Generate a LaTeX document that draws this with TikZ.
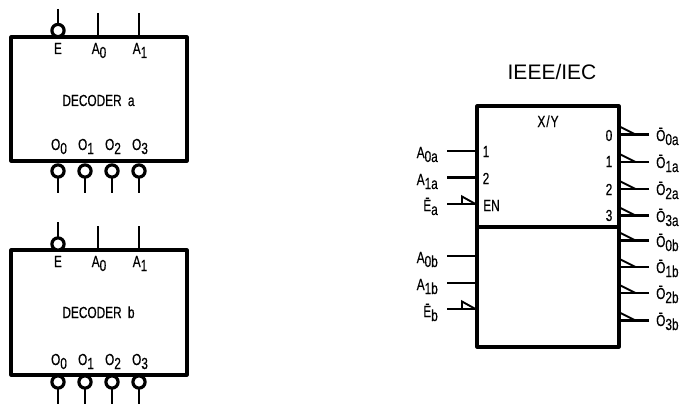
\documentclass[tikz,border=0pt]{standalone}
\usepackage{fontspec}
\usetikzlibrary{calc}
\setmainfont{Liberation Sans}
\newfontfamily\cad[FakeStretch=0.74,FakeBold=0.35]{Liberation Sans}
\newcommand{\sbs}[1]{\raisebox{-4pt}{#1}}
\tikzset{
  box/.style={draw,line width=3.1pt,fill=white,inner sep=0pt,line join=round},
  pin/.style={line width=2.8pt},
  tri/.style={line width=1.9pt},
  bubble/.style={circle,draw,line width=3.2pt,fill=white,minimum size=12.2pt,inner sep=0pt,outer sep=0pt},
  lbl/.style={font=\cad\fontsize{16}{16}\selectfont,inner sep=0pt,anchor=base},
  lblr/.style={lbl,anchor=base east},
  lbll/.style={lbl,anchor=base west}
}
\begin{document}
\begin{tikzpicture}[x=1pt,y=-1pt]
\useasboundingbox (0,0) rectangle (683,412);
% left decoders
\node[box,minimum width=176pt,minimum height=124pt] (deca) at (99,99) {};
\node[box,minimum width=176pt,minimum height=125pt] (decb) at (99,312.5) {};
\foreach \d/\ya/\yb/\yc/\yd/\ye/\yf/\yg/\yh/\n in {deca/9/13/30.5/171/193/54/106/150/a,decb/222/226/244/382/404/267/318/365/b}{
  \coordinate (\d e) at (58,\ya);
  \node[bubble] (\d eb) at (58,\yc) {};
  \draw[pin] (\d e) -- (\d eb);
  \coordinate (\d a0) at (98,\yb);
  \coordinate (\d a1) at (139,\yb);
  \draw[pin] (\d a0) -- (\d a0 |- \d.north);
  \draw[pin] (\d a1) -- (\d a1 |- \d.north);
  \foreach \k/\x in {0/58,1/85,2/112,3/139}{
    \node[bubble] (\d o\k) at (\x,\yd) {};
    \coordinate (\d q\k) at (\x,\ye);
    \draw[pin] (\d o\k) -- (\d q\k);
  }
  \node[lbl] (\d le) at (58,\yf) {E};
  \node[lbl] (\d la0) at (99,\yf) {A\sbs{0}};
  \node[lbl] (\d la1) at (140,\yf) {A\sbs{1}};
  \node[lbl] (\d title) at (98.5,\yg) {DECODER\hspace{3pt} \n};
  \node[lbl] (\d l0) at (59,\yh) {O\sbs{0}};
  \node[lbl] (\d l1) at (86,\yh) {O\sbs{1}};
  \node[lbl] (\d l2) at (113,\yh) {O\sbs{2}};
  \node[lbl] (\d l3) at (140,\yh) {O\sbs{3}};
}
% right block
\node[font=\fontsize{21}{21}\selectfont,inner sep=0pt,anchor=base] (std) at (552,80) {IEEE/IEC};
\node[box,minimum width=142pt,minimum height=121pt] (xa) at (548,166.5) {};
\node[box,minimum width=142pt,minimum height=120pt] (xb) at (548,287) {};
\node[lbl] (xy) at (548,127) {X\hspace{1pt}/\hspace{1pt}Y};
% inputs
\coordinate (a0a) at (447,151);
\coordinate (a1a) at (447,177.5);
\coordinate (ena) at (447,204);
\coordinate (a0b) at (447,256);
\coordinate (a1b) at (447,283);
\coordinate (enb) at (447,309);
\draw[pin] (a0a) -- (a0a -| xa.west);
\draw[pin] (a1a) -- (a1a -| xa.west);
\draw[pin] (ena) -- (ena -| xa.west);
\draw[pin] (a0b) -- (a0b -| xb.west);
\draw[pin] (a1b) -- (a1b -| xb.west);
\draw[pin] (enb) -- (enb -| xb.west);
\foreach \p/\b in {ena/xa,enb/xb}{
  \draw[tri,line join=miter] ($(\p)+(15,0)$) -- ++(0,-7.5) -- (\p -| \b.west);
}
% outputs
\foreach \n/\y/\b in {o0a/134.5/xa,o1a/162/xa,o2a/189/xa,o3a/215.5/xa,o0b/240.5/xb,o1b/267/xb,o2b/293/xb,o3b/320.5/xb}{
  \coordinate (\n) at (649,\y);
  \draw[pin] (\n) -- (\n -| \b.east);
  \draw[tri] ($(\n -| \b.east)+(0,-7.5)$) -- ($(\n -| \b.east)+(15,0)$);
}
% labels in block
\node[lbl] (n0) at (609,141) {0};
\node[lbl] (n1) at (609,167) {1};
\node[lbl] (n2) at (609,195) {2};
\node[lbl] (n3) at (609,221) {3};
\node[lbl] (i1) at (486,157) {1};
\node[lbl] (i2) at (486,184) {2};
\node[lbl] (ien) at (491.5,211) {EN};
% left labels
\node[lblr] (la0a) at (438,158) {A\sbs{0a}};
\node[lblr] (la1a) at (438,185) {A\sbs{1a}};
\node[lblr] (lea) at (438,211) {Ē\sbs{a}};
\node[lblr] (la0b) at (438,263) {A\sbs{0b}};
\node[lblr] (la1b) at (438,290) {A\sbs{1b}};
\node[lblr] (leb) at (438,317) {Ē\sbs{b}};
% right labels
\node[lbll] (lo0a) at (656,141) {Ō\sbs{0a}};
\node[lbll] (lo1a) at (656,168) {Ō\sbs{1a}};
\node[lbll] (lo2a) at (656,195) {Ō\sbs{2a}};
\node[lbll] (lo3a) at (656,222) {Ō\sbs{3a}};
\node[lbll] (lo0b) at (656,247) {Ō\sbs{0b}};
\node[lbll] (lo1b) at (656,273) {Ō\sbs{1b}};
\node[lbll] (lo2b) at (656,299) {Ō\sbs{2b}};
\node[lbll] (lo3b) at (656,326) {Ō\sbs{3b}};
\end{tikzpicture}
\end{document}
